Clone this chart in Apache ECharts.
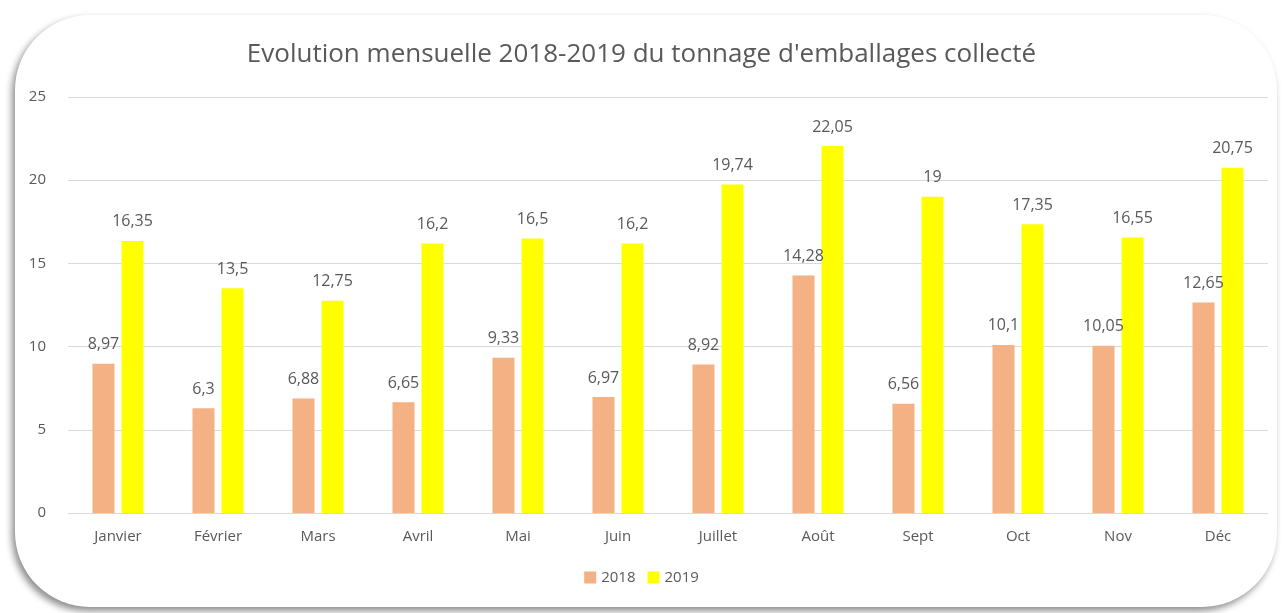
<!DOCTYPE html>
<html lang="fr">
<head>
    <meta charset="UTF-8">
    <title>Evolution mensuelle 2018-2019</title>
    <script src="https://cdn.jsdelivr.net/npm/echarts@6/dist/echarts.min.js"></script>
    <style>
        html, body { margin: 0; padding: 0; background: #fff; }
        #box {
            position: absolute; left: 15px; top: 15px; width: 1262px; height: 592px;
            border-radius: 75px; background: #fff;
            box-shadow: -3px 4px 7px rgba(0,0,0,0.45);
        }
        #main { position: absolute; left: 0; top: 0; width: 1283px; height: 613px; }
    </style>
</head>
<body>
<div id="box"></div>
<div id="main"></div>
<script type="text/javascript">
    var mois = ['Janvier', 'Février', 'Mars', 'Avril', 'Mai', 'Juin', 'Juillet', 'Août', 'Sept', 'Oct', 'Nov', 'Déc'];
    var val2018 = [8.97, 6.3, 6.88, 6.65, 9.33, 6.97, 8.92, 14.28, 6.56, 10.1, 10.05, 12.65];
    var val2019 = [16.35, 13.5, 12.75, 16.2, 16.5, 16.2, 19.74, 22.05, 19, 17.35, 16.55, 20.75];

    var police = '"Open Sans", sans-serif';
    var gris = '#595959';

    function virgule(p) {
        return String(p.value).replace('.', ',');
    }

    var myChart = echarts.init(document.getElementById('main'));
    var option = {
        backgroundColor: 'transparent',
        title: {
            text: "Evolution mensuelle 2018-2019 du tonnage d'emballages collecté",
            left: 'center',
            top: 37,
            textStyle: { fontFamily: police, fontSize: 26, fontWeight: 'normal', color: gris }
        },
        legend: {
            data: ['2018', '2019'],
            bottom: 23,
            left: 'center',
            itemWidth: 12,
            itemHeight: 12,
            itemGap: 12,
            icon: 'rect',
            textStyle: { fontFamily: police, fontSize: 15, color: gris }
        },
        grid: { left: 68, right: 15, top: 97, bottom: 100 },
        xAxis: {
            type: 'category',
            data: mois,
            axisLine: { lineStyle: { color: '#d9d9d9' } },
            axisTick: { show: false },
            axisLabel: { fontFamily: police, fontSize: 15, color: gris, margin: 16 }
        },
        yAxis: {
            type: 'value',
            min: 0,
            max: 25,
            interval: 5,
            axisLabel: { fontFamily: police, fontSize: 15, color: gris, margin: 22 },
            splitLine: { lineStyle: { color: '#d9d9d9' } }
        },
        series: [{
            name: '2018',
            type: 'bar',
            data: val2018,
            barWidth: 22,
            barGap: '32%',
            itemStyle: { color: '#F4B183' },
            label: { show: true, position: 'top', distance: 11, formatter: virgule,
                     fontFamily: police, fontSize: 16, color: gris }
        }, {
            name: '2019',
            type: 'bar',
            data: val2019,
            barWidth: 22,
            itemStyle: { color: '#FFFF00' },
            label: { show: true, position: 'top', distance: 11, formatter: virgule,
                     fontFamily: police, fontSize: 16, color: gris }
        }]
    };
    myChart.setOption(option);
</script>
</body>
</html>
